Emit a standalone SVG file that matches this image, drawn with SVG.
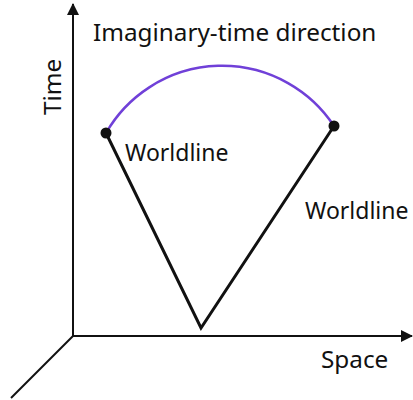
<svg xmlns="http://www.w3.org/2000/svg" width="413" height="400" viewBox="0 0 413 400">
<defs>
<style>
.ax{stroke:#111;stroke-width:2;fill:none}
.wl{stroke:#111;stroke-width:3;fill:none;stroke-linejoin:miter}
.lbl{font-family:"Noto Sans","Open Sans",sans-serif;fill:#111}
</style>
<marker id="ah" viewBox="0 0 12 12" refX="11" refY="6" markerWidth="12" markerHeight="12" markerUnits="userSpaceOnUse" orient="auto">
<path d="M0,0 L12,6 L0,12 Z" fill="#111"/>
</marker>
</defs>
<rect width="413" height="400" fill="#fff"/>
<g id="connectors">
<line class="ax" x1="73" y1="336" x2="73" y2="4" marker-end="url(#ah)"/>
<line class="ax" x1="73" y1="336" x2="412" y2="336" marker-end="url(#ah)"/>
<line class="ax" x1="73" y1="336" x2="11" y2="398"/>
<polyline class="wl" points="106,133 201,328 334,126"/>
<path d="M106,133 A134,134 0 0 1 334,126" stroke="#7040d8" stroke-width="2.5" fill="none"/>
</g>
<g id="left-event"><circle cx="106" cy="133" r="5.5" fill="#111"/></g>
<g id="right-event"><circle cx="334" cy="126" r="5.5" fill="#111"/></g>
<g id="title"><text class="lbl" x="93" y="41" font-size="24.3">Imaginary-time direction</text></g>
<g id="time-label"><text class="lbl" x="0" y="0" font-size="24.3" text-anchor="middle" transform="translate(61,87) rotate(-90)">Time</text></g>
<g id="worldline-left"><text class="lbl" x="125" y="161" font-size="23">Worldline</text></g>
<g id="worldline-right"><text class="lbl" x="305" y="219" font-size="23">Worldline</text></g>
<g id="space-label"><text class="lbl" x="321" y="368" font-size="24.3">Space</text></g>
</svg>
